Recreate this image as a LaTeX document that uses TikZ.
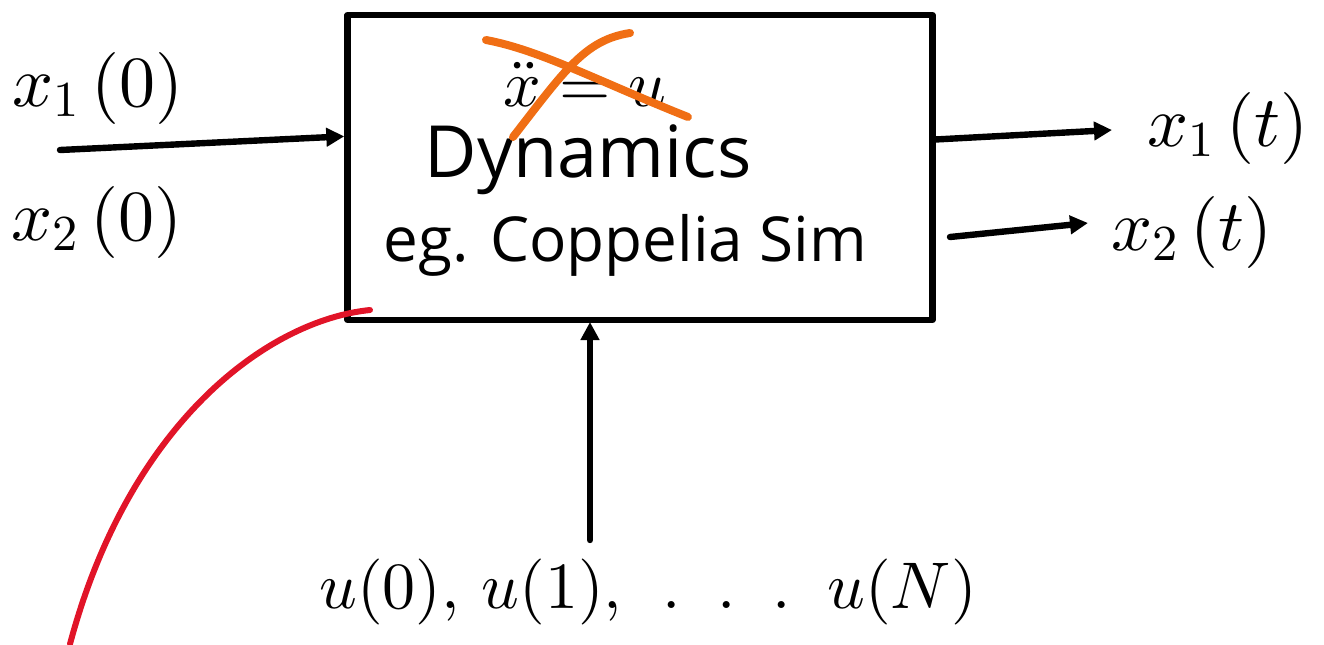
\documentclass[tikz,border=0pt]{standalone}
\usepackage{fontspec}
\setmainfont{Open Sans}
\DeclareFontShape{OML}{cmm}{m}{it}{<->cmmi10}{\skewchar\font=127 }
\DeclareFontShape{OT1}{cmr}{m}{n}{<->cmr10}{}
\DeclareFontShape{OMS}{cmsy}{m}{n}{<->cmsy10}{\skewchar\font=48 }
\usetikzlibrary{arrows.meta,calc}
\definecolor{penorange}{RGB}{240,110,20}
\definecolor{penred}{RGB}{225,20,40}
\begin{document}
\begin{tikzpicture}[x=0.5pt,y=-0.5pt,
  pen/.style={line width=3.2pt,line cap=round,line join=round},
  arr/.style={pen,-{Triangle[length=9pt,width=9pt]}},
  lbl/.style={inner sep=0pt,font=\fontsize{36}{40}\selectfont},
  intext/.style={inner sep=0pt,font=\fontsize{36}{40}\selectfont}]
\useasboundingbox (0,0) rectangle (1324,644);
% box
\node[pen,draw,minimum width=292.5pt,minimum height=152.5pt,inner sep=0pt] (box) at (640,167.5) {};
% inner texts
\node[inner sep=0pt,font=\fontsize{33}{36}\selectfont] (old) at (585,84) {$\ddot{x} = u$};
\node[intext] (dyn) at (588,160) {Dynamics};
\node[intext,font=\fontsize{31}{34}\selectfont] (sim) at (625,245) {eg. Coppelia Sim};
% crossing out
\draw[line width=4pt,line cap=round,penorange] (486,40) .. controls (540,50) and (600,82) .. (688,117);
\draw[line width=4pt,line cap=round,penorange] (513,137) .. controls (565,70) and (585,40) .. (630,33);
% left inputs
\node[lbl] (x10) at (98,88) {$x_1\,(0)$};
\node[lbl] (x20) at (97,222) {$x_2\,(0)$};
\coordinate (lin) at (60,150);
\draw[arr] (lin) -- ($(box.north west)!0.40!(box.south west)$);
% right outputs
\node[lbl] (x1t) at (1228,128) {$x_1\,(t)$};
\node[lbl] (x2t) at (1192,232) {$x_2\,(t)$};
\coordinate (r1) at (1112,130);
\coordinate (r2s) at (950,237);
\coordinate (r2) at (1088,223);
\draw[arr] ($(box.north east)!0.41!(box.south east)$) -- (r1);
\draw[arr] (r2s) -- (r2);
% bottom input
\node[lbl,font=\fontsize{33}{36}\selectfont] (u) at (648,592) {$u(0),\, u(1),\;\, .\;\;.\;\;.\;\; u(N)$};
\coordinate (ub) at (590,540);
\draw[arr] (ub) -- (590,322);
% red stroke
\draw[line width=3pt,line cap=round,penred] (370,310) .. controls (270,320) and (130,420) .. (70,644);
\end{tikzpicture}
\end{document}
